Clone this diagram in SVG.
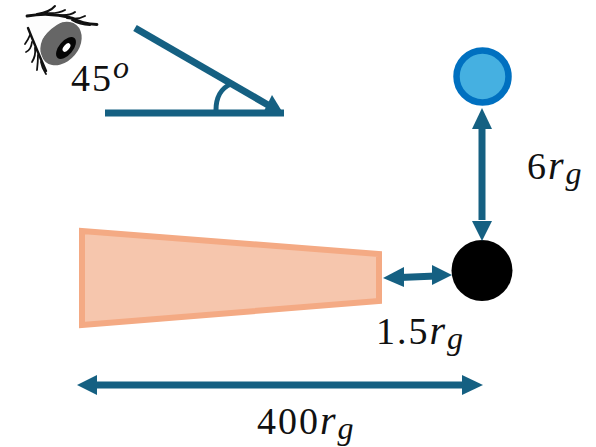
<svg xmlns="http://www.w3.org/2000/svg" width="596" height="447" viewBox="0 0 596 447">
<style>
.t{font-family:"Liberation Serif","DejaVu Serif",serif;font-size:38px;fill:#111;letter-spacing:2px}
.i{font-style:italic;font-size:40px}
.s{font-size:32px;font-style:italic;letter-spacing:0}
.c{fill:none;stroke:#156082;stroke-width:7}
.h{fill:#156082}
.l{fill:none;stroke:#111;stroke-linecap:round}
</style>
<rect width="596" height="447" fill="#fff"/>
<g id="eye">
<path d="M27 17Q55 16 74 24Q52 34 46 50Q43 58 45 64Q33 42 27 17Z" fill="#fdfdfd"/>
<ellipse cx="61" cy="43.500" rx="24" ry="18" transform="rotate(-50 61 43.500)" fill="#666"/>
<path d="M27 17Q36 42 45 64L40 64Q32 44 26 24L26 17Z M27 17Q45 20 62 22Q50 28 43 38Q35 30 27 17Z" fill="#fdfdfd"/>
<ellipse cx="66" cy="48" rx="13" ry="7" transform="rotate(-50 66 48)" fill="#050505"/>
<ellipse cx="66.500" cy="47.500" rx="5" ry="2.800" transform="rotate(-50 66.500 47.500)" fill="#fff"/>
<g class="l">
<path stroke-width="2.800" d="M27 16Q50 12 72 18Q82 24 97 24.500"/>
<path stroke-width="2" d="M37 14Q50 12 55 6M46 13Q58 14 65 10M58 15Q70 16 75 12M67 18Q78 20 85 16M72 20Q80 25 90 25"/>
<path stroke-width="2.400" d="M28 28Q36 48 46 71"/>
<path stroke-width="1.800" d="M30 35Q28 40 25 44M32 42Q31 50 26 52M35 48Q36 56 32 62M38 55Q38 62 37 70M41 62Q42 68 46 74"/>
</g>
</g>
<g id="angle-connectors">
<path class="c" d="M135 28L268 105"/>
<path class="c" d="M105 113H284"/>
<path class="h" d="M283 113L263 113L272 95Z"/>
<path d="M216 110C216 98 221 88 231 84" fill="none" stroke="#156082" stroke-width="5"/>
</g>
<g id="target">
<circle cx="482.500" cy="76.500" r="26" fill="#45b0e1" stroke="#0070c0" stroke-width="6.500"/>
</g>
<g id="black-hole">
<circle cx="482" cy="270.500" r="30.500" fill="#000"/>
</g>
<g id="disc">
<path d="M82 231L379 254V301L82 325Z" fill="#f6c6ad" stroke="#f4aa84" stroke-width="6"/>
</g>
<g id="connectors">
<path class="c" d="M482 125V220"/>
<path class="h" d="M482 108L472 129H492Z"/>
<path class="h" d="M482 241L472 221H492Z"/>
<path class="c" d="M400 277.500L436 276"/>
<path class="h" d="M383 278L404 267V287Z"/>
<path class="h" d="M452 275L432 265V285Z"/>
<path class="c" d="M92 385H466"/>
<path class="h" d="M77 385L97 375V395Z"/>
<path class="h" d="M483 385L462 375V395Z"/>
</g>
<g id="labels">
<text class="t" x="71" y="91">45<tspan class="s" dy="-13">o</tspan></text>
<text class="t" x="527" y="179">6<tspan class="i">r</tspan><tspan class="s" dy="5">g</tspan></text>
<text class="t" x="376" y="344">1.5<tspan class="i">r</tspan><tspan class="s" dy="5">g</tspan></text>
<text class="t" x="257" y="434">400<tspan class="i">r</tspan><tspan class="s" dy="5">g</tspan></text>
</g>
</svg>
